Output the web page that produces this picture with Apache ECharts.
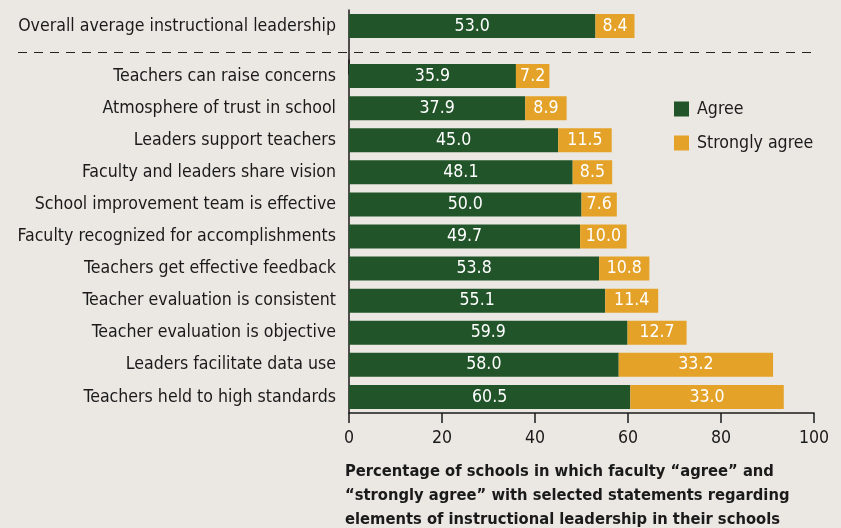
<!DOCTYPE html>
<html><head><meta charset="utf-8">
<script src="https://cdn.jsdelivr.net/npm/echarts@6/dist/echarts.min.js"></script>
<style>html,body{margin:0;padding:0;background:#ebe8e3}#c{width:841px;height:528px}</style>
</head><body><div id="c"></div>
<script>
const overallCategory = ['Overall average instructional leadership'];
const overallAgree = [53.0];
const overallStrong = [8.4];
const categories = [
  'Teachers can raise concerns',
  'Atmosphere of trust in school',
  'Leaders support teachers',
  'Faculty and leaders share vision',
  'School improvement team is effective',
  'Faculty recognized for accomplishments',
  'Teachers get effective feedback',
  'Teacher evaluation is consistent',
  'Teacher evaluation is objective',
  'Leaders facilitate data use',
  'Teachers held to high standards'
];
const agree = [35.9, 37.9, 45.0, 48.1, 50.0, 49.7, 53.8, 55.1, 59.9, 58.0, 60.5];
const strongly = [7.2, 8.9, 11.5, 8.5, 7.6, 10.0, 10.8, 11.4, 12.7, 33.2, 33.0];
const xTicks = [0, 20, 40, 60, 80, 100];
const axisTitle = 'Percentage of schools in which faculty \u201cagree\u201d and\n\u201cstrongly agree\u201d with selected statements regarding\nelements of instructional leadership in their schools';

const FONT = '"Liberation Sans Narrow","Arial Narrow","DejaVu Sans Condensed",sans-serif';
const GREEN = '#215429', ORANGE = '#e4a229', TXT = '#1a1a1a';
const FS = 17.6;
const chart = echarts.init(document.getElementById('c'));
const lbl = {show: true, position: 'inside', color: '#fff', fontFamily: FONT, fontSize: FS, formatter: p => p.value.toFixed(1)};
const catLabel = {color: TXT, fontFamily: FONT, fontSize: FS, margin: 13};
chart.setOption({
  backgroundColor: '#ebe8e3',
  animation: false,
  textStyle: {fontFamily: FONT},
  title: {text: axisTitle, left: 345, top: 460, padding: 0, textStyle: {fontFamily: FONT, fontWeight: 'bold', fontSize: 16.4, color: TXT, lineHeight: 24}},
  legend: {orient: 'vertical', left: 669, top: 95, itemWidth: 15, itemHeight: 15, itemGap: 16, icon: 'rect',
    data: ['Agree', 'Strongly agree'], textStyle: {fontFamily: FONT, fontSize: FS, color: TXT, padding: [0, 0, 0, 3]}},
  grid: [
    {left: 349, right: 27, top: 10, height: 64, outerBoundsMode: 'none', containLabel: false},
    {left: 349, right: 27, top: 60, height: 353, outerBoundsMode: 'none', containLabel: false}
  ],
  xAxis: [
    {gridIndex: 0, type: 'value', min: 0, max: 100, interval: 20, show: false},
    {gridIndex: 1, type: 'value', min: 0, max: 100, interval: 20,
      axisLine: {show: true, lineStyle: {color: TXT, width: 1.5}},
      axisTick: {show: true, length: 10, lineStyle: {color: TXT, width: 1.5}},
      splitLine: {show: false},
      axisLabel: {color: TXT, fontFamily: FONT, fontSize: FS, margin: 16, formatter: v => xTicks.includes(v) ? String(v) : ''}}
  ],
  yAxis: [
    {gridIndex: 0, type: 'category', inverse: true, data: [overallCategory[0], ''],
      axisLine: {show: true, lineStyle: {color: TXT, width: 1.5}}, axisTick: {show: false}, axisLabel: catLabel},
    {gridIndex: 1, type: 'category', inverse: true, data: categories,
      axisLine: {show: true, lineStyle: {color: TXT, width: 1.5}}, axisTick: {show: false}, axisLabel: catLabel}
  ],
  series: [
    {name: 'Agree', type: 'bar', xAxisIndex: 0, yAxisIndex: 0, stack: 'o', barWidth: 24, itemStyle: {color: GREEN}, label: lbl, data: overallAgree},
    {name: 'Strongly agree', type: 'bar', xAxisIndex: 0, yAxisIndex: 0, stack: 'o', barWidth: 24, itemStyle: {color: ORANGE}, label: lbl, data: overallStrong},
    {name: 'Agree', type: 'bar', xAxisIndex: 1, yAxisIndex: 1, stack: 's', barWidth: 24, itemStyle: {color: GREEN}, label: lbl, data: agree},
    {name: 'Strongly agree', type: 'bar', xAxisIndex: 1, yAxisIndex: 1, stack: 's', barWidth: 24, itemStyle: {color: ORANGE}, label: lbl, data: strongly}
  ],
  graphic: [{type: 'line', shape: {x1: 18, y1: 52.5, x2: 814, y2: 52.5}, style: {stroke: '#222', lineWidth: 1, lineDash: [9, 7]}, z: 10}]
});
</script></body></html>
